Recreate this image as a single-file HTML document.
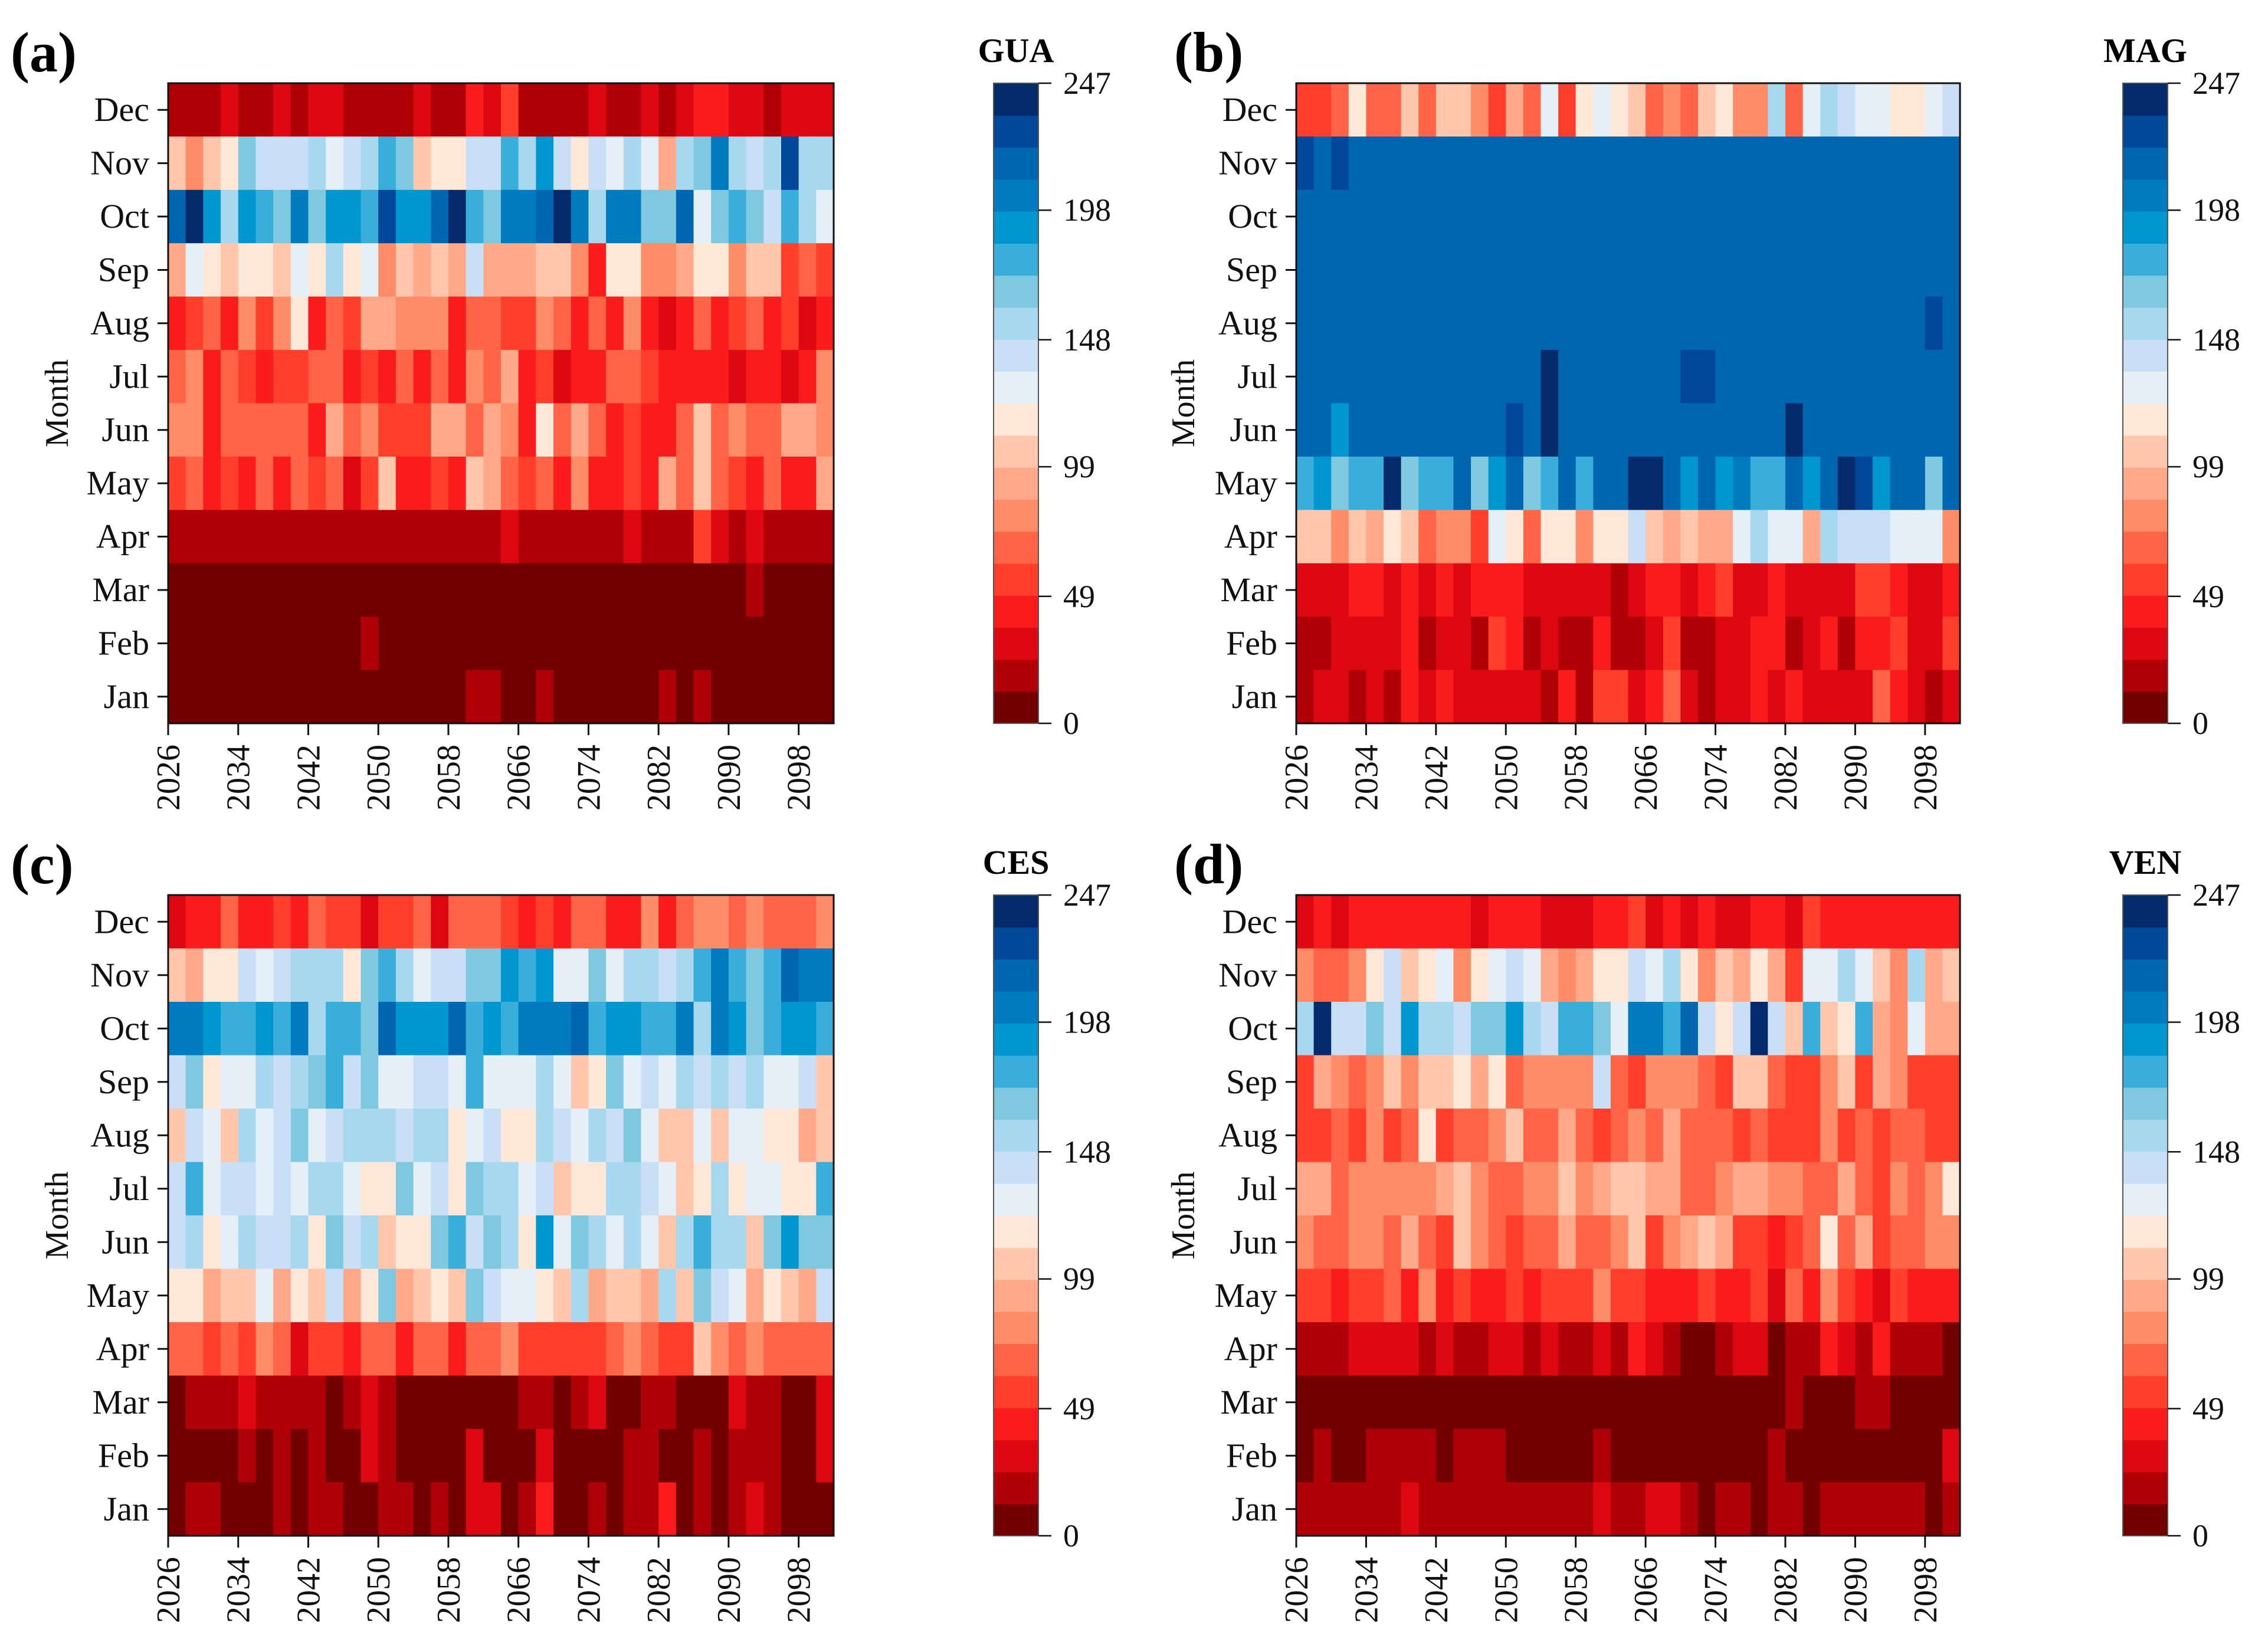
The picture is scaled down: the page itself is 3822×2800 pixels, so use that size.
<!DOCTYPE html>
<html><head><meta charset="utf-8"><title>Monthly heatmaps</title>
<style>
html,body{margin:0;padding:0;background:#fff;}
svg{display:block;font-family:"Liberation Serif",serif;}
</style></head>
<body>
<svg id="chart" xmlns="http://www.w3.org/2000/svg" width="3822" height="2800" viewBox="0 0 3822 2800"></svg>
<script>
// ---- data (class index 0-19 of the 0..247 colour scale), rows top->bottom: Dec..Jan ----
const months = ["Dec","Nov","Oct","Sep","Aug","Jul","Jun","May","Apr","Mar","Feb","Jan"];
const yearTicks = ["2026","2034","2042","2050","2058","2066","2074","2082","2090","2098"];
const cbarTicks = [0,49,99,148,198,247];
const panelLetters = ["(a)","(b)","(c)","(d)"];
const stationNames = ["GUA","MAG","CES","VEN"];

const guaDec=[1,1,1,2,1,1,2,1,2,2,1,1,1,1,2,1,1,3,2,4,1,1,1,1,2,1,1,2,1,2,3,3,2,2,1,2,2,2];
const guaNov=[8,6,8,9,13,11,11,11,12,10,11,12,14,13,8,9,9,11,11,14,12,15,11,9,11,10,12,10,7,12,13,16,12,11,12,18,12,12];
const guaOct=[17,19,15,12,15,14,13,16,13,15,15,14,18,15,15,17,19,14,13,16,16,17,19,16,12,16,16,13,13,17,10,13,14,13,11,14,12,10];
const guaSep=[7,10,9,8,9,9,8,10,9,12,9,10,6,8,7,8,7,11,7,7,7,8,8,6,3,9,9,6,6,7,9,9,6,8,8,4,5,4];
const guaAug=[3,4,5,3,6,4,6,9,3,5,4,7,7,6,6,6,3,5,5,4,4,6,5,3,5,3,6,3,2,3,5,3,4,5,3,4,2,3];
const guaJul=[5,6,3,5,4,3,4,4,5,5,3,4,3,5,3,5,3,6,5,7,3,4,2,3,3,5,5,4,3,3,3,3,2,3,3,2,3,6];
const guaJun=[6,6,3,5,5,5,5,5,3,7,5,6,4,4,4,7,7,5,7,6,3,9,5,7,5,3,4,3,3,5,8,5,6,5,5,7,7,6];
const guaMay=[4,5,3,4,3,5,3,5,4,5,2,4,8,3,3,4,3,8,7,5,4,5,3,6,3,3,4,3,7,5,8,5,4,3,5,3,3,7];
const guaApr=[1,1,1,1,1,1,1,1,1,1,1,1,1,1,1,1,1,1,1,2,1,1,1,1,1,1,2,1,1,1,4,2,1,2,1,1,1,1];
const guaMar=[0,0,0,0,0,0,0,0,0,0,0,0,0,0,0,0,0,0,0,0,0,0,0,0,0,0,0,0,0,0,0,0,0,1,0,0,0,0];
const guaFeb=[0,0,0,0,0,0,0,0,0,0,0,1,0,0,0,0,0,0,0,0,0,0,0,0,0,0,0,0,0,0,0,0,0,0,0,0,0,0];
const guaJan=[0,0,0,0,0,0,0,0,0,0,0,0,0,0,0,0,0,1,1,0,0,1,0,0,0,0,0,0,1,0,1,0,0,0,0,0,0,0];

const magDec=[4,4,5,9,5,5,8,5,8,8,6,4,7,5,10,4,9,10,9,8,5,6,5,8,9,6,6,12,5,10,12,11,10,10,9,9,10,11];
const magNov=[18,17,18,17,17,17,17,17,17,17,17,17,17,17,17,17,17,17,17,17,17,17,17,17,17,17,17,17,17,17,17,17,17,17,17,17,17,17];
const magOct=[17,17,17,17,17,17,17,17,17,17,17,17,17,17,17,17,17,17,17,17,17,17,17,17,17,17,17,17,17,17,17,17,17,17,17,17,17,17];
const magSep=[17,17,17,17,17,17,17,17,17,17,17,17,17,17,17,17,17,17,17,17,17,17,17,17,17,17,17,17,17,17,17,17,17,17,17,17,17,17];
const magAug=[17,17,17,17,17,17,17,17,17,17,17,17,17,17,17,17,17,17,17,17,17,17,17,17,17,17,17,17,17,17,17,17,17,17,17,17,18,17];
const magJul=[17,17,17,17,17,17,17,17,17,17,17,17,17,17,19,17,17,17,17,17,17,17,18,18,17,17,17,17,17,17,17,17,17,17,17,17,17,17];
const magJun=[17,17,15,17,17,17,17,17,17,17,17,17,18,17,19,17,17,17,17,17,17,17,17,17,17,17,17,17,19,17,17,17,17,17,17,17,17,17];
const magMay=[14,15,13,14,14,19,13,14,14,17,13,15,17,13,14,17,14,17,17,19,19,17,15,17,15,16,14,14,17,15,17,19,18,15,17,17,13,17];
const magApr=[8,8,6,8,7,9,8,5,6,6,4,10,9,5,9,9,6,9,9,11,8,7,8,7,7,10,12,10,10,7,12,11,11,11,10,10,10,6];
const magMar=[2,2,2,3,3,2,3,2,3,2,3,3,3,2,2,2,2,2,1,2,3,3,2,3,4,2,2,3,2,2,2,2,4,4,3,2,2,3];
const magFeb=[1,1,2,2,2,2,3,1,2,2,1,4,3,1,2,1,1,3,1,1,2,4,1,1,2,2,3,3,1,2,3,1,3,3,4,2,2,4];
const magJan=[1,2,2,1,2,1,3,2,3,2,2,2,2,2,1,3,1,4,4,2,3,5,2,1,2,2,3,2,3,2,2,2,2,5,3,2,1,2];

const cesDec=[2,3,3,5,3,3,4,3,5,4,4,2,4,4,5,2,5,5,5,4,3,4,3,5,5,3,3,6,3,5,6,6,5,6,5,5,5,6];
const cesNov=[8,7,9,9,11,10,11,12,12,12,9,13,14,12,10,11,11,13,13,15,14,15,10,10,13,10,12,12,11,12,14,16,14,13,14,17,16,16];
const cesOct=[16,16,15,14,14,15,14,16,12,14,14,13,17,15,15,15,17,14,15,14,16,16,16,17,14,15,15,14,14,16,12,16,15,13,14,15,15,14];
const cesSep=[11,13,9,10,10,12,11,12,13,14,11,13,10,10,11,11,10,14,10,10,10,12,10,8,9,13,10,11,10,12,11,12,11,12,10,10,11,8];
const cesAug=[8,11,10,8,12,10,11,13,10,11,12,12,12,11,12,12,9,10,11,9,9,12,11,10,12,11,13,10,8,8,10,8,10,10,9,9,7,8];
const cesJul=[11,14,10,11,11,10,11,10,12,12,10,9,9,13,10,11,9,13,12,12,10,11,8,9,9,12,12,11,10,8,9,12,9,10,10,9,9,14];
const cesJun=[11,12,9,10,12,11,11,12,9,13,11,12,8,9,9,13,14,11,13,12,9,15,10,13,12,10,12,10,8,12,14,12,12,8,13,15,13,13];
const cesMay=[9,9,7,8,8,10,7,9,8,11,7,9,13,7,8,9,8,13,11,10,10,9,8,12,7,8,8,7,12,8,13,11,10,7,9,8,7,11];
const cesApr=[5,5,4,5,4,6,5,2,4,4,3,5,5,3,5,5,3,5,5,6,4,4,4,4,4,5,6,5,4,4,8,6,5,6,5,5,5,5];
const cesMar=[0,1,1,1,2,1,1,1,1,0,1,2,1,0,0,0,0,0,0,0,1,1,0,1,2,0,0,1,1,0,0,0,2,1,1,0,0,2];
const cesFeb=[0,0,0,0,1,0,1,0,1,0,0,2,1,0,0,0,0,2,0,0,0,2,0,0,0,0,1,1,0,0,1,0,1,1,1,0,0,2];
const cesJan=[0,1,1,0,0,0,1,0,1,1,0,0,1,1,0,1,0,2,2,0,1,3,0,0,1,0,1,1,3,0,1,0,1,2,1,0,0,0];

const venDec=[2,3,2,3,3,3,3,3,3,3,2,3,3,3,2,2,2,3,3,4,2,3,2,3,2,2,3,3,2,4,3,3,3,3,3,3,3,3];
const venNov=[6,5,5,6,9,11,8,9,10,6,9,10,11,10,7,6,7,9,9,11,10,12,9,6,8,7,9,7,4,10,10,12,10,8,6,12,7,8];
const venOct=[12,19,11,11,13,11,15,12,12,11,13,13,15,12,11,14,14,13,10,16,16,14,17,11,9,11,19,11,8,14,8,9,14,7,6,10,7,7];
const venSep=[4,7,6,5,6,8,6,8,8,9,7,9,5,6,6,6,6,11,5,4,6,6,6,5,4,8,8,5,4,4,6,8,4,7,6,4,4,4];
const venAug=[4,4,5,4,6,4,5,9,4,5,5,6,8,5,5,7,5,4,5,6,5,7,5,5,5,4,5,4,4,4,6,4,5,4,5,5,4,4];
const venJul=[7,7,5,6,6,6,6,6,7,8,6,5,5,6,6,8,6,7,8,8,7,7,5,5,6,7,7,6,6,5,5,7,5,4,6,5,6,9];
const venJun=[6,5,5,6,6,5,7,5,4,8,6,5,4,5,5,7,5,5,6,8,4,6,7,8,7,4,4,3,4,5,9,5,7,4,5,5,6,6];
const venMay=[4,4,3,4,4,5,3,6,3,4,3,3,4,3,4,4,4,6,4,4,3,3,3,4,3,3,4,2,5,3,6,4,3,2,4,3,3,3];
const venApr=[1,1,1,2,2,2,2,1,2,1,1,2,2,1,2,1,1,2,1,3,2,1,0,0,1,2,2,0,1,1,3,2,1,3,1,1,1,0];
const venMar=[0,0,0,0,0,0,0,0,0,0,0,0,0,0,0,0,0,0,0,0,0,0,0,0,0,0,0,0,1,0,0,0,1,1,0,0,0,0];
const venFeb=[0,1,0,0,1,1,1,1,0,1,1,1,0,0,0,0,0,1,0,0,0,0,0,0,0,0,0,1,0,0,0,0,0,0,0,0,0,2];
const venJan=[1,1,1,1,1,1,2,1,1,1,1,1,1,1,1,1,1,2,1,1,2,2,1,0,1,1,0,1,1,0,1,1,1,1,1,1,0,1];

const palette=["#730000","#b00008","#de0812","#fa1c1c","#ff3f2c","#ff6447","#ff8c68","#ffa88a","#ffc6ac","#ffe8d8",
 "#e4eff8","#c8dff5","#a8d8ef","#7ec8e0","#3aaedb","#0096d0","#007bbf","#0066b0","#00479a","#032b6b"];
const VMAX=247, NCLASS=20;

const panels=[
 {rows:[guaDec,guaNov,guaOct,guaSep,guaAug,guaJul,guaJun,guaMay,guaApr,guaMar,guaFeb,guaJan],x0:285,x1:1413,y0:141,y1:1226,cb:1684,lx:18,mx:97},
 {rows:[magDec,magNov,magOct,magSep,magAug,magJul,magJun,magMay,magApr,magMar,magFeb,magJan],x0:2197,x1:3322,y0:141,y1:1226,cb:3598,lx:1990,mx:2006},
 {rows:[cesDec,cesNov,cesOct,cesSep,cesAug,cesJul,cesJun,cesMay,cesApr,cesMar,cesFeb,cesJan],x0:285,x1:1413,y0:1517,y1:2603,cb:1684,lx:18,mx:97},
 {rows:[venDec,venNov,venOct,venSep,venAug,venJul,venJun,venMay,venApr,venMar,venFeb,venJan],x0:2197,x1:3322,y0:1517,y1:2603,cb:3598,lx:1990,mx:2006}
];

const NS="http://www.w3.org/2000/svg";
const svg=document.getElementById("chart");
function mk(tag,attrs,parent){const e=document.createElementNS(NS,tag);for(const k in attrs)e.setAttribute(k,attrs[k]);(parent||svg).appendChild(e);return e;}

panels.forEach((p,pi)=>{
  const g=mk("g",{});
  
  
  const nCols=p.rows[0].length, nRows=p.rows.length;
  const xScale=i=>p.x0+i*(p.x1-p.x0)/nCols;
  const yScale=r=>p.y0+r*(p.y1-p.y0)/nRows;
  const cw=(p.x1-p.x0)/nCols, rh=(p.y1-p.y0)/nRows;
  p.rows.forEach((row,r)=>{
    row.forEach((v,i)=>{
      const c=mk("rect",{x:xScale(i).toFixed(2),y:yScale(r).toFixed(2),width:(cw+0.8).toFixed(2),height:(rh+0.8).toFixed(2),fill:palette[Math.max(0,Math.min(NCLASS-1,Math.round(v)))]},g);
      
      
    });
  });
  const fr=mk("rect",{x:p.x0,y:p.y0,width:p.x1-p.x0,height:p.y1-p.y0,fill:"none",stroke:"#111","stroke-width":3},g);
  
  
  months.forEach((m,r)=>{
    const yc=yScale(r)+rh/2;
    mk("line",{x1:p.x0-18,x2:p.x0,y1:yc,y2:yc,stroke:"#111","stroke-width":3},g);
    const t=mk("text",{x:p.x0-32,y:yc+19,"text-anchor":"end","font-size":58,fill:"#111"},g);
    t.textContent=m;
    
    
  });
  yearTicks.forEach((lab,k)=>{
    const x=xScale(k*4);
    mk("line",{x1:x,x2:x,y1:p.y1,y2:p.y1+20,stroke:"#111","stroke-width":3},g);
    const t=mk("text",{x:0,y:0,"text-anchor":"end","font-size":56,fill:"#111",transform:`translate(${x+19},${p.y1+36}) rotate(-90)`},g);
    t.textContent=lab;
    
    
  });
  const yt=mk("text",{x:0,y:0,"text-anchor":"middle","font-size":56,fill:"#111",transform:`translate(${p.mx+18},${(p.y0+p.y1)/2}) rotate(-90)`},g);
  yt.textContent="Month";
  
  
  const pl=mk("text",{x:p.lx,y:p.y0-20,"font-size":96,"font-weight":"bold",fill:"#000"},g);
  pl.textContent=panelLetters[pi];
  
  
  const cbW=76, H=p.y1-p.y0;
  const cg=mk("g",{},g);
  
  
  palette.forEach((col,k)=>{
    const y=p.y1-(k+1)*H/NCLASS;
    const r=mk("rect",{x:p.cb,y:y.toFixed(2),width:cbW,height:(H/NCLASS+0.8).toFixed(2),fill:col},cg);
    
    
  });
  mk("rect",{x:p.cb,y:p.y0,width:cbW,height:H,fill:"none",stroke:"#555","stroke-width":2},cg);
  cbarTicks.forEach(v=>{
    const y=p.y1-v/VMAX*H;
    mk("line",{x1:p.cb+cbW,x2:p.cb+cbW+22,y1:y,y2:y,stroke:"#111","stroke-width":2.5},cg);
    const t=mk("text",{x:p.cb+cbW+42,y:y+18,"font-size":54,fill:"#111"},cg);
    t.textContent=String(v);
    
    
  });
  const st=mk("text",{x:p.cb+cbW/2,y:p.y0-36,"text-anchor":"middle","font-size":58,"font-weight":"bold",fill:"#000"},g);
  st.textContent=stationNames[pi];
  
  
});
</script>
</body></html>
